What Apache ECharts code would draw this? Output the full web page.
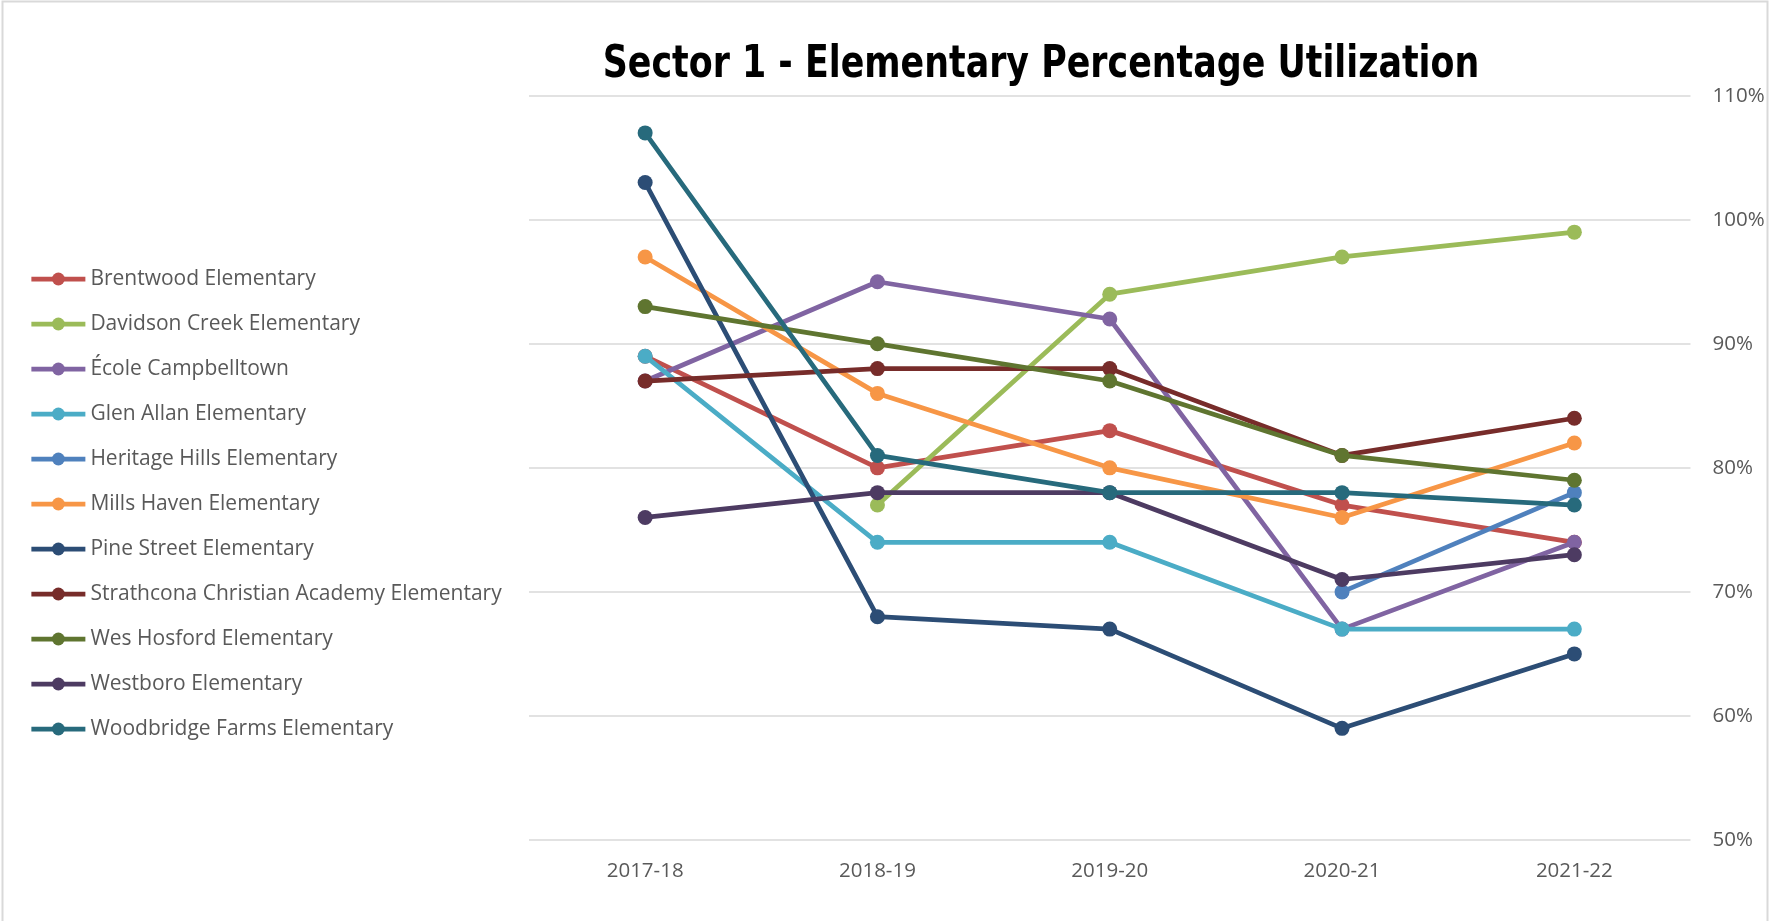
<!DOCTYPE html>
<html>
<head>
<meta charset="utf-8">
<script src="https://cdn.jsdelivr.net/npm/echarts@6/dist/echarts.min.js"></script>
<style>
html,body{margin:0;padding:0;background:#fff;}
#chart{width:1770px;height:921px;}
</style>
</head>
<body>
<div id="chart"></div>
<script>
var titleText = 'Sector 1 - Elementary Percentage Utilization';
var categories = ['2017-18', '2018-19', '2019-20', '2020-21', '2021-22'];
var yTicks = [50, 60, 70, 80, 90, 100, 110];

var brentwood     = [89, 80, 83, 77, 74];
var davidsonCreek = [null, 77, 94, 97, 99];
var ecoleCampbell = [87, 95, 92, 67, 74];
var glenAllan     = [89, 74, 74, 67, 67];
var heritageHills = [null, null, null, 70, 78];
var millsHaven    = [97, 86, 80, 76, 82];
var pineStreet    = [103, 68, 67, 59, 65];
var strathcona    = [87, 88, 88, 81, 84];
var wesHosford    = [93, 90, 87, 81, 79];
var westboro      = [76, 78, 78, 71, 73];
var woodbridge    = [107, 81, 78, 78, 77];

var seriesNames = ['Brentwood Elementary','Davidson Creek Elementary','École Campbelltown','Glen Allan Elementary','Heritage Hills Elementary','Mills Haven Elementary','Pine Street Elementary','Strathcona Christian Academy Elementary','Wes Hosford Elementary','Westboro Elementary','Woodbridge Farms Elementary'];
var seriesData = [brentwood, davidsonCreek, ecoleCampbell, glenAllan, heritageHills, millsHaven, pineStreet, strathcona, wesHosford, westboro, woodbridge];
var colors = ['#C0504D','#9BBB59','#8064A2','#4BACC6','#4F81BD','#F79646','#2C4D75','#772C2A','#5F7530','#4D3B62','#276A7C'];

var chart = echarts.init(document.getElementById('chart'));
var series = seriesNames.map(function(n, i){
  return {
    name: n, type: 'line', data: seriesData[i],
    symbol: 'circle', symbolSize: 15, showAllSymbol: true,
    lineStyle: {width: 4.75, color: colors[i]},
    itemStyle: {color: colors[i]},
    emphasis: {disabled: true},
    z: 2 + i
  };
});
chart.setOption({
  animation: false,
  color: colors,
  graphic: [
    {type: 'rect', shape: {x: 2.5, y: 1.5, width: 1765, height: 960}, style: {fill: 'none', stroke: '#D9D9D9', lineWidth: 2}, silent: true, z: -1},
    {type: 'text', x: 1041, y: 66, scaleX: 0.88, style: {text: titleText, fontFamily: '"Liberation Sans Narrow", "DejaVu Sans Condensed", "Liberation Sans", sans-serif', fontWeight: 'bold', fontSize: 44, fill: '#000', textAlign: 'center', textVerticalAlign: 'middle'}, z: 10}
  ],
  legend: {
    orient: 'vertical', left: 24, top: 263,
    itemWidth: 54, itemHeight: 16, itemGap: 23,
    lineStyle: {width: 4.75},
    textStyle: {fontFamily: '"Open Sans", sans-serif', fontSize: 21, color: '#595959', lineHeight: 22},
    data: seriesNames
  },
  grid: {left: 529, right: 79.5, top: 95.7, bottom: 81, containLabel: false},
  xAxis: {
    type: 'category', data: categories, boundaryGap: true,
    axisLine: {show: false}, axisTick: {show: false},
    axisLabel: {color: '#595959', fontFamily: '"Open Sans", sans-serif', fontSize: 20.5, margin: 21}
  },
  yAxis: {
    type: 'value', position: 'right', min: yTicks[0], max: yTicks[yTicks.length-1], interval: 10,
    axisLine: {show: false}, axisTick: {show: false},
    axisLabel: {color: '#595959', fontFamily: '"Open Sans", sans-serif', fontSize: 20.5, margin: 22, formatter: '{value}%'},
    splitLine: {lineStyle: {color: '#D9D9D9', width: 1.5}}
  },
  series: series
});
</script>
</body>
</html>
